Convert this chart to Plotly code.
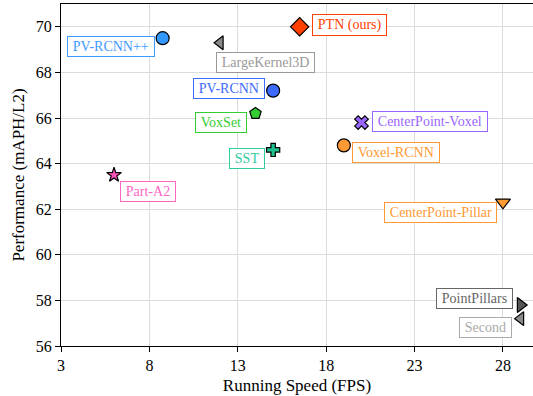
import plotly.graph_objects as go

# Data
methods = ["PTN (ours)", "PV-RCNN++", "LargeKernel3D", "PV-RCNN", "VoxSet", "SST",
           "Part-A2", "CenterPoint-Voxel", "Voxel-RCNN", "CenterPoint-Pillar",
           "PointPillars", "Second"]
speed = [16.5, 8.75, 12.0, 15.0, 14.0, 15.0, 6.0, 20.0, 19.0, 28.0, 29.0, 29.0]
perf = [70.0, 69.5, 69.3, 67.2, 66.2, 64.6, 63.5, 65.8, 64.8, 62.3, 57.8, 57.2]
marker_colors = ["#ff4000", "#3399ff", "#8a8a8a", "#3d6bff", "#33cc33", "#1fbf8f",
                 "#ff55bb", "#9966ff", "#ff9933", "#ff9933", "#555555", "#8a8a8a"]
label_colors = ["#ff4000", "#3d9bff", "#999999", "#3d6bff", "#33cc33", "#2ecc9f",
                "#ff66c4", "#9966ff", "#ff9933", "#ff9933", "#666666", "#aaaaaa"]
symbols = ["diamond", "circle", "triangle-left", "circle", "pentagon", "cross",
           "star", "x", "circle", "triangle-down", "triangle-right", "triangle-left"]
sizes = [14, 13, 12, 13, 12, 11, 11, 12, 13, 13, 13, 12]
x_ticks = [3, 8, 13, 18, 23, 28]
y_ticks = [56, 58, 60, 62, 64, 66, 68, 70]

# label placement: (xanchor, xshift, yshift)
placement = [("left", 12, 2), ("right", -8, -8), ("left", -4, -20), ("right", -8, 2),
             ("right", -8, -9), ("right", -8, -9), ("left", 6, -16), ("left", 10, 1),
             ("left", 8, -7), ("right", -6, -10), ("right", -8, 6), ("right", -9, -9)]

FONT = "'Liberation Serif', 'Times New Roman', Times, serif"
PAD = "\u2009"

fig = go.Figure()
for i, m in enumerate(methods):
    fig.add_trace(go.Scatter(
        x=[speed[i]], y=[perf[i]], mode="markers", name=m,
        marker=dict(symbol=symbols[i], size=sizes[i], color=marker_colors[i],
                    line=dict(color="black", width=1.2)),
        showlegend=False, cliponaxis=False, hoverinfo="skip"))
    xa, xs, ys = placement[i]
    fig.add_annotation(x=speed[i], y=perf[i], text=PAD + m + PAD, showarrow=False,
                       xanchor=xa, yanchor="middle", xshift=xs, yshift=ys,
                       font=dict(family=FONT, size=14, color=label_colors[i]),
                       bgcolor="white", bordercolor=label_colors[i], borderwidth=1,
                       borderpad=2, opacity=1)

fig.update_layout(
    width=533, height=396,
    margin=dict(l=61, r=0, t=4, b=50),
    plot_bgcolor="white", paper_bgcolor="white",
    font=dict(family=FONT, size=16, color="black"),
    xaxis=dict(range=[3, 29.7], tickvals=x_ticks, showgrid=True, gridcolor="#dcdcdc",
               gridwidth=1, showline=True, linecolor="black", linewidth=1.3,
               mirror=True, ticks="outside", ticklen=5, tickcolor="black",
               zeroline=False, tickfont=dict(family=FONT, size=16),
               title=dict(text="Running Speed (FPS)", standoff=5,
                          font=dict(family=FONT, size=17))),
    yaxis=dict(range=[56, 71], tickvals=y_ticks, showgrid=True, gridcolor="#dcdcdc",
               gridwidth=1, showline=True, linecolor="black", linewidth=1.3,
               mirror=False, ticks="outside", ticklen=5, tickcolor="black",
               zeroline=False, tickfont=dict(family=FONT, size=16),
               title=dict(text="Performance (mAPH/L2)", standoff=6,
                          font=dict(family=FONT, size=17))),
)

fig.write_html("out.html", config={"displayModeBar": False},
               post_script="document.body.style.margin='0px';document.body.style.padding='0px';")
